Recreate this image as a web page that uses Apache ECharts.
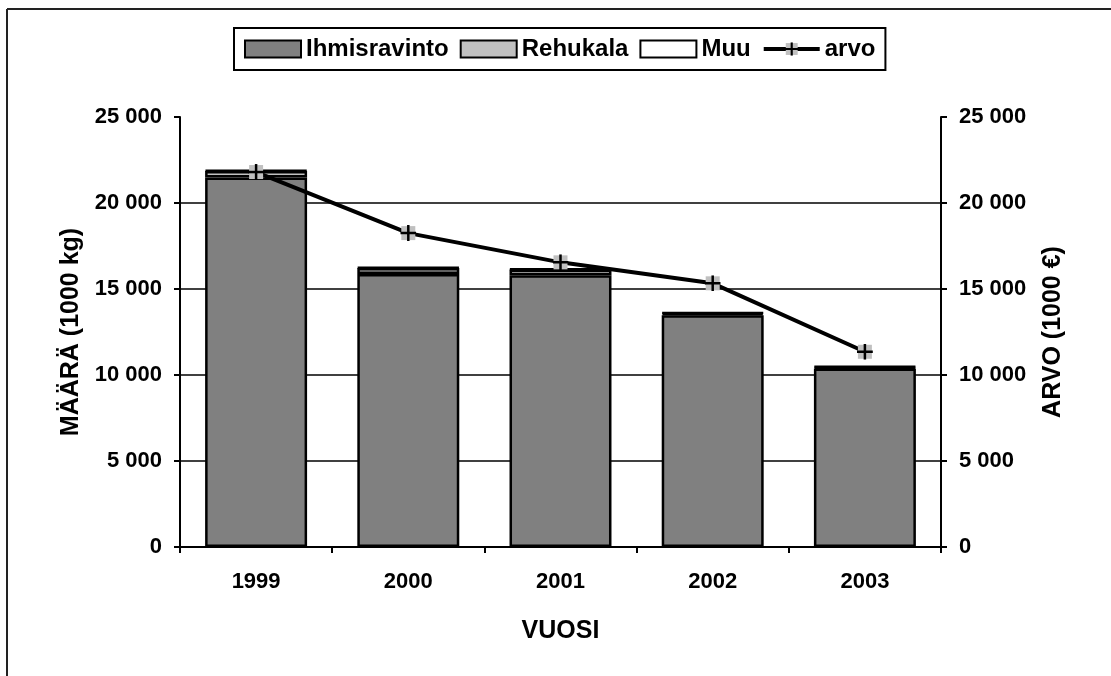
<!DOCTYPE html>
<html>
<head>
<meta charset="utf-8">
<script src="https://cdn.jsdelivr.net/npm/echarts@6/dist/echarts.min.js"></script>
<style>
html,body{margin:0;padding:0;background:#fff;}
#c{width:1111px;height:676px;}
</style>
</head>
<body>
<div id="c"></div>
<script>
var years = ['1999', '2000', '2001', '2002', '2003'];
var ihmisravinto = [21480, 15870, 15800, 13480, 10380];
var rehukala = [380, 350, 330, 100, 80];
var muu = [40, 40, 40, 50, 50];
var arvo = [21800, 18250, 16550, 15330, 11350];

var FONT = 'Liberation Sans';
var markerSvg = '<svg xmlns="http://www.w3.org/2000/svg" width="16" height="16" viewBox="0 0 16 16">' +
  '<rect x="1" y="1" width="14" height="14" fill="#c0c0c0"/>' +
  '<line x1="8" y1="0" x2="8" y2="16" stroke="#000" stroke-width="2.5"/>' +
  '<line x1="0" y1="8" x2="16" y2="8" stroke="#000" stroke-width="2.5"/></svg>';
var markerUri = 'image://data:image/svg+xml;charset=utf-8,' + encodeURIComponent(markerSvg);

function fmt(v) {
  var s = String(v);
  return s.length > 3 ? s.slice(0, s.length - 3) + ' ' + s.slice(-3) : s;
}

var chart = echarts.init(document.getElementById('c'));
var labelStyle = {color: '#000', fontFamily: FONT, fontWeight: 'bold', fontSize: 22};
var nameStyle = {color: '#000', fontFamily: FONT, fontWeight: 'bold', fontSize: 25};
var yAxisCommon = {
  type: 'value', min: 0, max: 25000, interval: 5000,
  axisLine: {show: true, lineStyle: {color: '#000', width: 2}},
  axisTick: {show: true, inside: false, length: 6, lineStyle: {color: '#000', width: 2}},
  nameLocation: 'middle',
  nameTextStyle: nameStyle,
  axisLabel: Object.assign({formatter: fmt, margin: 18}, labelStyle)
};
chart.setOption({
  animation: false,
  backgroundColor: '#fff',
  graphic: [
    {type: 'line', shape: {x1: 7, y1: 9, x2: 1111, y2: 9}, style: {stroke: '#222', lineWidth: 2}},
    {type: 'line', shape: {x1: 7, y1: 9, x2: 7, y2: 676}, style: {stroke: '#222', lineWidth: 2}}
  ],
  legend: {
    left: 234, top: 28, width: 660,
    padding: [9, 10, 9, 10],
    borderColor: '#000', borderWidth: 2,
    itemWidth: 56, itemHeight: 17, itemGap: 11,
    textStyle: {color: '#000', fontFamily: FONT, fontWeight: 'bold', fontSize: 24},
    data: [
      {name: 'Ihmisravinto', icon: 'rect'},
      {name: 'Rehukala', icon: 'rect'},
      {name: 'Muu', icon: 'rect'},
      {name: 'arvo', lineStyle: {width: 4, color: '#000'}}
    ]
  },
  grid: {left: 180, right: 170, top: 117, bottom: 129, containLabel: false},
  xAxis: {
    type: 'category', data: years,
    axisLine: {show: true, lineStyle: {color: '#000', width: 2}},
    axisTick: {show: true, inside: false, length: 6, alignWithLabel: false, lineStyle: {color: '#000', width: 2}},
    axisLabel: Object.assign({margin: 24}, labelStyle),
    name: 'VUOSI', nameLocation: 'middle', nameGap: 72,
    nameTextStyle: nameStyle
  },
  yAxis: [
    Object.assign({}, yAxisCommon, {
      position: 'left', name: 'MÄÄRÄ (1000 kg)', nameGap: 64,
      splitLine: {show: true, showMaxLine: false, lineStyle: {color: '#000', width: 1.5}}
    }),
    Object.assign({}, yAxisCommon, {
      position: 'right', name: 'ARVO (1000 €)', nameGap: 100,
      splitLine: {show: false}
    })
  ],
  series: [
    {name: 'Ihmisravinto', type: 'bar', stack: 'm', data: ihmisravinto, barWidth: '67%',
      itemStyle: {color: '#808080', borderColor: '#000', borderWidth: 2.5}},
    {name: 'Rehukala', type: 'bar', stack: 'm', data: rehukala,
      itemStyle: {color: '#c0c0c0', borderColor: '#000', borderWidth: 2.5}},
    {name: 'Muu', type: 'bar', stack: 'm', data: muu,
      itemStyle: {color: '#ffffff', borderColor: '#000', borderWidth: 2.5}},
    {name: 'arvo', type: 'line', yAxisIndex: 1, data: arvo, z: 5,
      symbol: markerUri, symbolSize: 16, showAllSymbol: true,
      lineStyle: {color: '#000', width: 4},
      itemStyle: {color: '#000'}}
  ]
});
</script>
</body>
</html>
